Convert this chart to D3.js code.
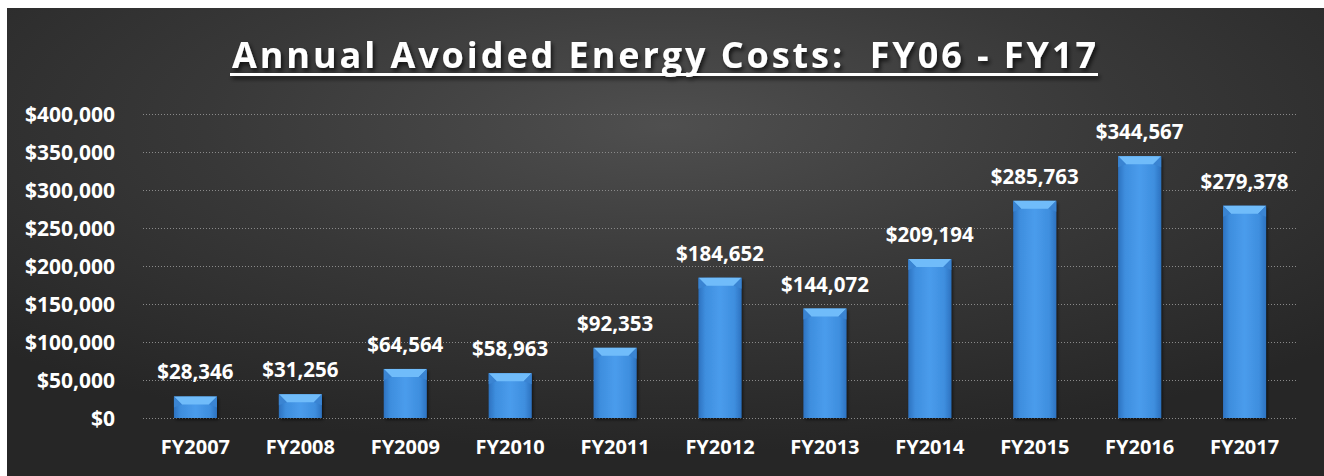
<!DOCTYPE html>
<html>
<head>
<meta charset="utf-8">
<script src="https://cdn.jsdelivr.net/npm/d3@7"></script>
<style>
  html, body { margin: 0; padding: 0; background: #fff; }
  svg { display: block; }
</style>
</head>
<body>
<svg id="chart" width="1324" height="476"></svg>
<script>
const years = ["FY2007", "FY2008", "FY2009", "FY2010", "FY2011", "FY2012", "FY2013", "FY2014", "FY2015", "FY2016", "FY2017"];
const savings = [28346, 31256, 64564, 58963, 92353, 184652, 144072, 209194, 285763, 344567, 279378];
const yTicks = [0, 50000, 100000, 150000, 200000, 250000, 300000, 350000, 400000];
const title = "Annual Avoided Energy Costs:  FY06 - FY17";

const svg = d3.select("#chart");
const W = 1324, H = 476;
const margin = { top: 114, right: 27, bottom: 58, left: 143 };
const font = "'Open Sans', sans-serif";

const defs = svg.append("defs");

// background radial glow
const bg = defs.append("radialGradient").attr("id", "bg")
  .attr("cx", "50%").attr("cy", "25%").attr("r", "70%");
bg.append("stop").attr("offset", "0%").attr("stop-color", "#4f4f4f");
bg.append("stop").attr("offset", "50%").attr("stop-color", "#383838");
bg.append("stop").attr("offset", "100%").attr("stop-color", "#262626");

const barGrad = defs.append("linearGradient").attr("id", "bar")
  .attr("x1", "0").attr("x2", "1").attr("y1", "0").attr("y2", "0");
barGrad.append("stop").attr("offset", "0%").attr("stop-color", "#2d72c0");
barGrad.append("stop").attr("offset", "16%").attr("stop-color", "#3e8ede");
barGrad.append("stop").attr("offset", "50%").attr("stop-color", "#4a9cec");
barGrad.append("stop").attr("offset", "84%").attr("stop-color", "#3e8ede");
barGrad.append("stop").attr("offset", "100%").attr("stop-color", "#2d72c0");

const shadow = defs.append("filter").attr("id", "shadow")
  .attr("x", "-10%").attr("y", "-10%").attr("width", "130%").attr("height", "140%");
shadow.append("feDropShadow").attr("dx", 1.5).attr("dy", 2).attr("stdDeviation", 1.5)
  .attr("flood-color", "#000").attr("flood-opacity", 0.55);

svg.append("rect").attr("x", 7).attr("y", 8).attr("width", W - 7).attr("height", H - 8)
  .attr("fill", "url(#bg)");

const x = d3.scaleBand().domain(years)
  .range([margin.left, W - margin.right])
  .paddingInner(0.59).paddingOuter(0.295);

const y = d3.scaleLinear().domain([0, 400000])
  .range([H - margin.bottom, margin.top]);

// gridlines
svg.append("g")
  .selectAll("line")
  .data(yTicks)
  .join("line")
  .attr("x1", margin.left).attr("x2", W - margin.right)
  .attr("y1", d => y(d) + 0.5).attr("y2", d => y(d) + 0.5)
  .attr("stroke", "#8a8a8a")
  .attr("stroke-width", 1)
  .attr("stroke-dasharray", "1,2");

// y axis labels
const fmt = d3.format("$,");
svg.append("g")
  .selectAll("text")
  .data(yTicks)
  .join("text")
  .attr("x", 115)
  .attr("y", d => y(d))
  .attr("dy", "0.36em")
  .attr("text-anchor", "end")
  .attr("fill", "#fff")
  .attr("font-family", font)
  .attr("font-weight", "bold")
  .attr("font-size", "21px")
  .text(d => fmt(d));

// bars
const bars = svg.append("g").selectAll("g")
  .data(years.map((d, i) => ({ year: d, value: savings[i] })))
  .join("g");

bars.append("rect")
  .attr("x", d => x(d.year))
  .attr("y", d => y(d.value))
  .attr("width", x.bandwidth())
  .attr("height", d => y(0) - y(d.value))
  .attr("fill", "url(#bar)")
  .attr("filter", "url(#shadow)");

// top bevel
const bev = 8;
bars.append("polygon")
  .attr("points", d => {
    const x0 = x(d.year), x1 = x0 + x.bandwidth(), t = y(d.value);
    return [[x0, t], [x1, t], [x1 - bev, t + bev], [x0 + bev, t + bev]].map(p => p.join(",")).join(" ");
  })
  .attr("fill", "#70bcfa");
bars.append("polygon")
  .attr("points", d => {
    const x0 = x(d.year), t = y(d.value);
    return [[x0, t], [x0 + bev, t + bev], [x0, t + bev + 3]].map(p => p.join(",")).join(" ");
  })
  .attr("fill", "#3a84d2");
bars.append("polygon")
  .attr("points", d => {
    const x1 = x(d.year) + x.bandwidth(), t = y(d.value);
    return [[x1, t], [x1 - bev, t + bev], [x1, t + bev + 3]].map(p => p.join(",")).join(" ");
  })
  .attr("fill", "#3a84d2");

// value labels
bars.append("text")
  .attr("x", d => x(d.year) + x.bandwidth() / 2)
  .attr("y", d => y(d.value) - 17)
  .attr("text-anchor", "middle")
  .attr("fill", "#fff")
  .attr("font-family", font)
  .attr("font-weight", "bold")
  .attr("font-size", "20.5px")
  .text(d => fmt(d.value));

// category labels
svg.append("g").selectAll("text")
  .data(years)
  .join("text")
  .attr("x", d => x(d) + x.bandwidth() / 2)
  .attr("y", 454)
  .attr("text-anchor", "middle")
  .attr("fill", "#fff")
  .attr("font-family", font)
  .attr("font-weight", "bold")
  .attr("font-size", "20px")
  .text(d => d);

// title
const titleShadow = defs.append("filter").attr("id", "tshadow")
  .attr("x", "-5%").attr("y", "-20%").attr("width", "110%").attr("height", "160%");
titleShadow.append("feDropShadow").attr("dx", 2).attr("dy", 3).attr("stdDeviation", 2)
  .attr("flood-color", "#000").attr("flood-opacity", 0.7);

const tg = svg.append("g").attr("filter", "url(#tshadow)");
tg.append("text")
  .attr("x", 232)
  .attr("y", 68)
  .attr("fill", "#fff")
  .attr("font-family", font)
  .attr("font-weight", "bold")
  .attr("font-size", "36px")
  .attr("textLength", 864)
  .attr("lengthAdjust", "spacing")
  .style("white-space", "pre")
  .text(title);
tg.append("rect")
  .attr("x", 230).attr("y", 73).attr("width", 868).attr("height", 3)
  .attr("fill", "#fff");
</script>
</body>
</html>
